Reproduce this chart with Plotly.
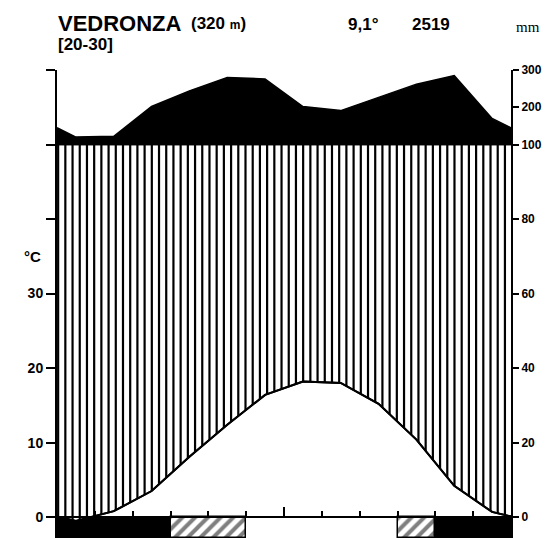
import numpy as np
import plotly.graph_objects as go

# ---- data ----
months = ["Jan", "Feb", "Mar", "Apr", "May", "Jun", "Jul", "Aug", "Sep", "Oct", "Nov", "Dec"]
temp_c = [-0.5, 0.8, 3.5, 8.1, 12.4, 16.4, 18.2, 18.0, 15.2, 10.4, 4.2, 0.7]
precip_mm = [120, 122, 202, 244, 280, 276, 202, 191, 227, 262, 285, 170]
frost = ["abs", "abs", "abs", "prob", "prob", "none", "none", "none", "none", "prob", "abs", "abs"]
left_tickvals = [0, 10, 20, 30, 40, 50, 60]
left_ticktext = ["0", "10", "20", "30", "", "", ""]
right_tickvals = [0, 10, 20, 30, 40, 50, 55, 60]
right_ticktext = ["0", "20", "40", "60", "80", "100", "200", "300"]
station = "VEDRONZA"
altitude = "(320 <span style='font-size:12px'>m</span>)"
years = "[20-30]"
mean_temp = "9,1°"
annual_precip = "2519"

# ---- geometry (page has an 8px body margin) ----
OFF = 8
W, H = 553 - OFF, 538 - OFF
L, R, T, B = 57 - OFF, 42, 70 - OFF, 0
YMIN, YMAX = -2.8, 60
PW, PH = W - L - R, H - T - B

def scale_p(p):
    return p / 2.0 if p <= 100 else 50 + (p - 100) / 20.0

xc = [i + 0.5 for i in range(12)]
t_edge = (temp_c[0] + temp_c[-1]) / 2
p_edge = (precip_mm[0] + precip_mm[-1]) / 2
x_full = [0] + xc + [12]
t_full = [t_edge] + temp_c + [t_edge]
p_full = [scale_p(v) for v in [p_edge] + precip_mm + [p_edge]]

# contiguous runs of each frost class
def runs(kind):
    out, start = [], None
    for i, f in enumerate(frost + ["_end"]):
        if f == kind and start is None:
            start = i
        elif f != kind and start is not None:
            out.append((start, i))
            start = None
    return out

fig = go.Figure()

# frost bar at the bottom
xs_abs = [xc[i] for i in range(12) if frost[i] == "abs"]
fig.add_trace(go.Bar(x=xs_abs, y=[YMIN] * len(xs_abs), base=0, width=1,
                     marker=dict(color="black", line=dict(width=0)),
                     showlegend=False, hoverinfo="skip"))
prob_runs = runs("prob")
fig.add_trace(go.Bar(x=[(a + b) / 2 for a, b in prob_runs], y=[YMIN] * len(prob_runs), base=0,
                     width=[b - a for a, b in prob_runs],
                     marker=dict(color="white",
                                 line=dict(color="black", width=1.5),
                                 pattern=dict(shape="/", size=9, solidity=0.45,
                                              fgcolor="black", bgcolor="white")),
                     showlegend=False, hoverinfo="skip"))

# white area between temperature curve and 100 mm line
fig.add_trace(go.Scatter(x=[0, 12], y=[50, 50], mode="lines",
                         line=dict(color="black", width=1.5), showlegend=False, hoverinfo="skip"))
fig.add_trace(go.Scatter(x=x_full, y=t_full, mode="lines", fill="tonexty",
                         fillcolor="white", line=dict(color="black", width=2),
                         showlegend=False, hoverinfo="skip"))

# vertical hatching of the humid period (from temperature curve to 100 mm line)
n_lines = 63
step = 12 / n_lines
hx = np.arange(0.03, 12, step)
ht = np.interp(hx, x_full, t_full)
seg_x, seg_y = [], []
for xv, tv in zip(hx, ht):
    seg_x += [xv, xv, None]
    seg_y += [tv, 50, None]
fig.add_trace(go.Scatter(x=seg_x, y=seg_y, mode="lines",
                         line=dict(color="black", width=2.2),
                         showlegend=False, hoverinfo="skip"))
fig.add_trace(go.Scatter(x=x_full, y=t_full, mode="lines",
                         line=dict(color="black", width=2),
                         showlegend=False, hoverinfo="skip"))

# precipitation above 100 mm (black)
fig.add_trace(go.Scatter(x=[0, 12], y=[50, 50], mode="lines",
                         line=dict(color="black", width=1.5), showlegend=False, hoverinfo="skip"))
fig.add_trace(go.Scatter(x=x_full, y=p_full, mode="lines", fill="tonexty",
                         fillcolor="black", line=dict(color="black", width=1.5),
                         showlegend=False, hoverinfo="skip"))

# dummy traces for secondary axes
fig.add_trace(go.Scatter(x=[0], y=[0], yaxis="y2", mode="markers",
                         marker=dict(opacity=0), showlegend=False, hoverinfo="skip"))
fig.add_trace(go.Scatter(x=[0], y=[0], xaxis="x2", mode="markers",
                         marker=dict(opacity=0), showlegend=False, hoverinfo="skip"))

zero_pos = (0 - YMIN) / (YMAX - YMIN)
lab_font = dict(family="Liberation Sans", size=14, color="black", weight="bold")
rlab_font = dict(family="Liberation Sans", size=12, color="black", weight="bold")

fig.update_layout(
    width=W, height=H,
    margin=dict(l=L, r=R, t=T, b=B, pad=0, autoexpand=False),
    paper_bgcolor="white", plot_bgcolor="white",
    bargap=0, barmode="overlay",
    xaxis=dict(range=[0, 12], visible=False, fixedrange=True),
    xaxis2=dict(range=[0, 12], overlaying="x", anchor="free", position=zero_pos, side="top",
                showline=True, linecolor="black", linewidth=2,
                ticks="outside", tickvals=[6], ticklen=9, tickwidth=2, tickcolor="black",
                minor=dict(tickvals=[1, 2, 3, 4, 5, 7, 8, 9, 10, 11], ticks="outside",
                           ticklen=5, tickwidth=2, tickcolor="black", showgrid=False),
                showticklabels=False, showgrid=False, zeroline=False),
    yaxis=dict(range=[YMIN, YMAX], tickvals=left_tickvals, ticktext=left_ticktext,
               ticks="outside", ticklen=9, tickwidth=2, tickcolor="black",
               showline=True, linecolor="black", linewidth=2,
               showgrid=False, zeroline=False, tickfont=lab_font),
    yaxis2=dict(range=[YMIN, YMAX], overlaying="y", side="right", anchor="x",
                tickvals=right_tickvals, ticktext=right_ticktext,
                ticks="outside", ticklen=6, tickwidth=2, tickcolor="black",
                showline=True, linecolor="black", linewidth=2,
                showgrid=False, zeroline=False, tickfont=rlab_font),
)

# page coordinates -> paper coordinates
def px(x):
    return (x - OFF - L) / PW

def py(y):
    return (OFF + H - B - y) / PH

ann = [
    dict(text=station, x=px(56), y=py(24), xanchor="left", yanchor="middle",
         font=dict(family="Liberation Sans", size=22, color="black", weight="bold")),
    dict(text=altitude, x=px(189), y=py(24), xanchor="left", yanchor="middle",
         font=dict(family="Liberation Sans", size=17, color="black", weight="bold")),
    dict(text=mean_temp, x=px(346), y=py(25), xanchor="left", yanchor="middle",
         font=dict(family="Liberation Sans", size=17, color="black", weight="bold")),
    dict(text=annual_precip, x=px(410), y=py(25), xanchor="left", yanchor="middle",
         font=dict(family="Liberation Sans", size=17, color="black", weight="bold")),
    dict(text="mm", x=px(514), y=py(27), xanchor="left", yanchor="middle",
         font=dict(family="Liberation Serif", size=15, color="black")),
    dict(text=years, x=px(56), y=py(45), xanchor="left", yanchor="middle",
         font=dict(family="Liberation Sans", size=17, color="black", weight="bold")),
    dict(text="°C", x=px(32), y=py(256), xanchor="center", yanchor="middle",
         font=dict(family="Liberation Sans", size=15, color="black", weight="bold")),
]
for a in ann:
    a.update(xref="paper", yref="paper", showarrow=False)
fig.update_layout(annotations=ann)

fig.write_html("out.html")
